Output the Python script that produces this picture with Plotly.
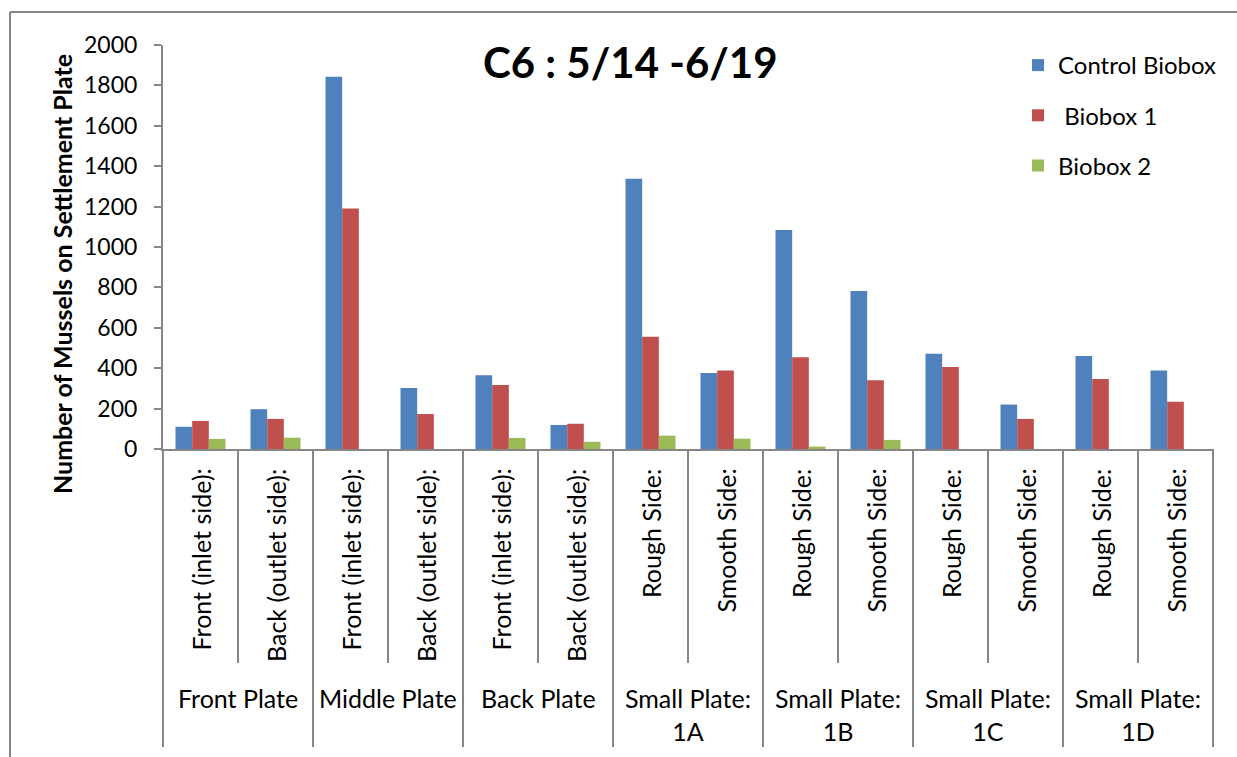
import plotly.graph_objects as go

# Plate groups and the side of each plate that was counted
groups = ["Front Plate", "Middle Plate", "Back Plate",
          "Small Plate:<br>1A", "Small Plate:<br>1B", "Small Plate:<br>1C", "Small Plate:<br>1D"]
sides = ["Front (inlet side):", "Back (outlet side):",
         "Front (inlet side):", "Back (outlet side):",
         "Front (inlet side):", "Back (outlet side):",
         "Rough Side:", "Smooth Side:",
         "Rough Side:", "Smooth Side:",
         "Rough Side:", "Smooth Side:",
         "Rough Side:", "Smooth Side:"]

# Mussel counts per side for each biobox
control_biobox = [110, 197, 1843, 302, 365, 119, 1338, 376, 1084, 782, 472, 220, 460, 388]
biobox_1 = [139, 149, 1191, 173, 317, 125, 556, 388, 454, 340, 406, 149, 347, 234]
biobox_2 = [50, 56, 0, 0, 55, 36, 66, 51, 12, 45, 0, 0, 0, 0]

y_ticks = [0, 200, 400, 600, 800, 1000, 1200, 1400, 1600, 1800, 2000]

FONT = "Lato"
GRAY = "#868686"
W, H = 1237, 757
ML, MR, MT, MB = 163, 24, 45, 308
PLOT_H = H - MT - MB
PLOT_W = W - ML - MR


def py(pixel_y):
    """Convert a pixel row of the page into paper y."""
    return (H - MB - pixel_y) / PLOT_H


def px(pixel_x):
    """Convert a pixel column of the page into paper x."""
    return (pixel_x - ML) / PLOT_W


positions = list(range(len(sides)))

fig = go.Figure()
series = [
    ("Control Biobox", control_biobox, "#4F81BD"),
    ("\u00a0Biobox 1", biobox_1, "#C0504D"),
    ("Biobox 2", biobox_2, "#9BBB59"),
]
for i, (name, vals, color) in enumerate(series):
    fig.add_trace(go.Bar(
        x=positions, y=vals, name=name, legendgroup=f"g{i}",
        marker=dict(color=color, line=dict(width=0)),
    ))

shapes = []
annotations = []

# Separators between the sides of a plate (short) and between plates (long)
for k in range(len(sides) - 1):
    boundary = k + 0.5
    bottom = py(663) if k % 2 == 0 else py(747)
    shapes.append(dict(type="line", xref="x", yref="paper",
                       x0=boundary, x1=boundary, y0=0, y1=bottom,
                       line=dict(color=GRAY, width=2)))
for edge in (0, 1):
    shapes.append(dict(type="line", xref="paper", yref="paper",
                       x0=edge, x1=edge, y0=0, y1=py(747),
                       line=dict(color=GRAY, width=2)))

# Outer chart frame
shapes.append(dict(type="line", xref="paper", yref="paper",
                   x0=px(10), x1=px(1245), y0=py(12), y1=py(12),
                   line=dict(color=GRAY, width=2)))
shapes.append(dict(type="line", xref="paper", yref="paper",
                   x0=px(10), x1=px(10), y0=py(12), y1=py(770),
                   line=dict(color=GRAY, width=2)))

# Side labels, rotated
for pos, label in zip(positions, sides):
    annotations.append(dict(text=label, xref="x", yref="paper", x=pos, y=py(467),
                            xanchor="center", yanchor="top", textangle=-90,
                            showarrow=False, font=dict(family=FONT, size=25, color="black")))

# Plate labels, centred under each pair of sides
for g, label in enumerate(groups):
    annotations.append(dict(text=label, xref="x", yref="paper", x=2 * g + 0.5, y=py(681),
                            xanchor="center", yanchor="top", showarrow=False,
                            font=dict(family=FONT, size=25, color="black")))

# Chart title
annotations.append(dict(text="<b>C6 : 5/14 -6/19</b>", xref="paper", yref="paper",
                        x=px(630), y=py(62), xanchor="center", yanchor="middle",
                        showarrow=False, font=dict(family=FONT, size=42, color="black")))

# Value axis title
annotations.append(dict(text="<b>Number of Mussels on Settlement Plate</b>", xref="paper", yref="paper",
                        x=px(62), y=py(274), xanchor="center", yanchor="middle",
                        textangle=-90, showarrow=False,
                        font=dict(family=FONT, size=25, color="black")))

fig.update_layout(
    width=W, height=H,
    margin=dict(l=ML, r=MR, t=MT, b=MB, pad=0),
    paper_bgcolor="white", plot_bgcolor="white",
    barmode="group", bargap=1 / 3, bargroupgap=0,
    font=dict(family=FONT, size=24, color="black"),
    shapes=shapes, annotations=annotations,
    showlegend=True,
    legend=dict(x=px(1018), y=py(43), xanchor="left", yanchor="top",
                traceorder="grouped", tracegroupgap=16,
                font=dict(family=FONT, size=24, color="black"),
                bgcolor="rgba(0,0,0,0)"),
    xaxis=dict(range=[-0.5, len(sides) - 0.5], showticklabels=False, ticks="",
               showgrid=False, zeroline=False, showline=True,
               linecolor=GRAY, linewidth=2, fixedrange=True),
    yaxis=dict(range=[0, 2000], tickvals=y_ticks, ticks="outside", ticklen=7,
               tickwidth=2, tickcolor=GRAY, showgrid=False, zeroline=False,
               showline=True, linecolor=GRAY, linewidth=2, ticklabelstandoff=12,
               tickfont=dict(family=FONT, size=23, color="black"), fixedrange=True),
)

fig.write_html("out.html")
